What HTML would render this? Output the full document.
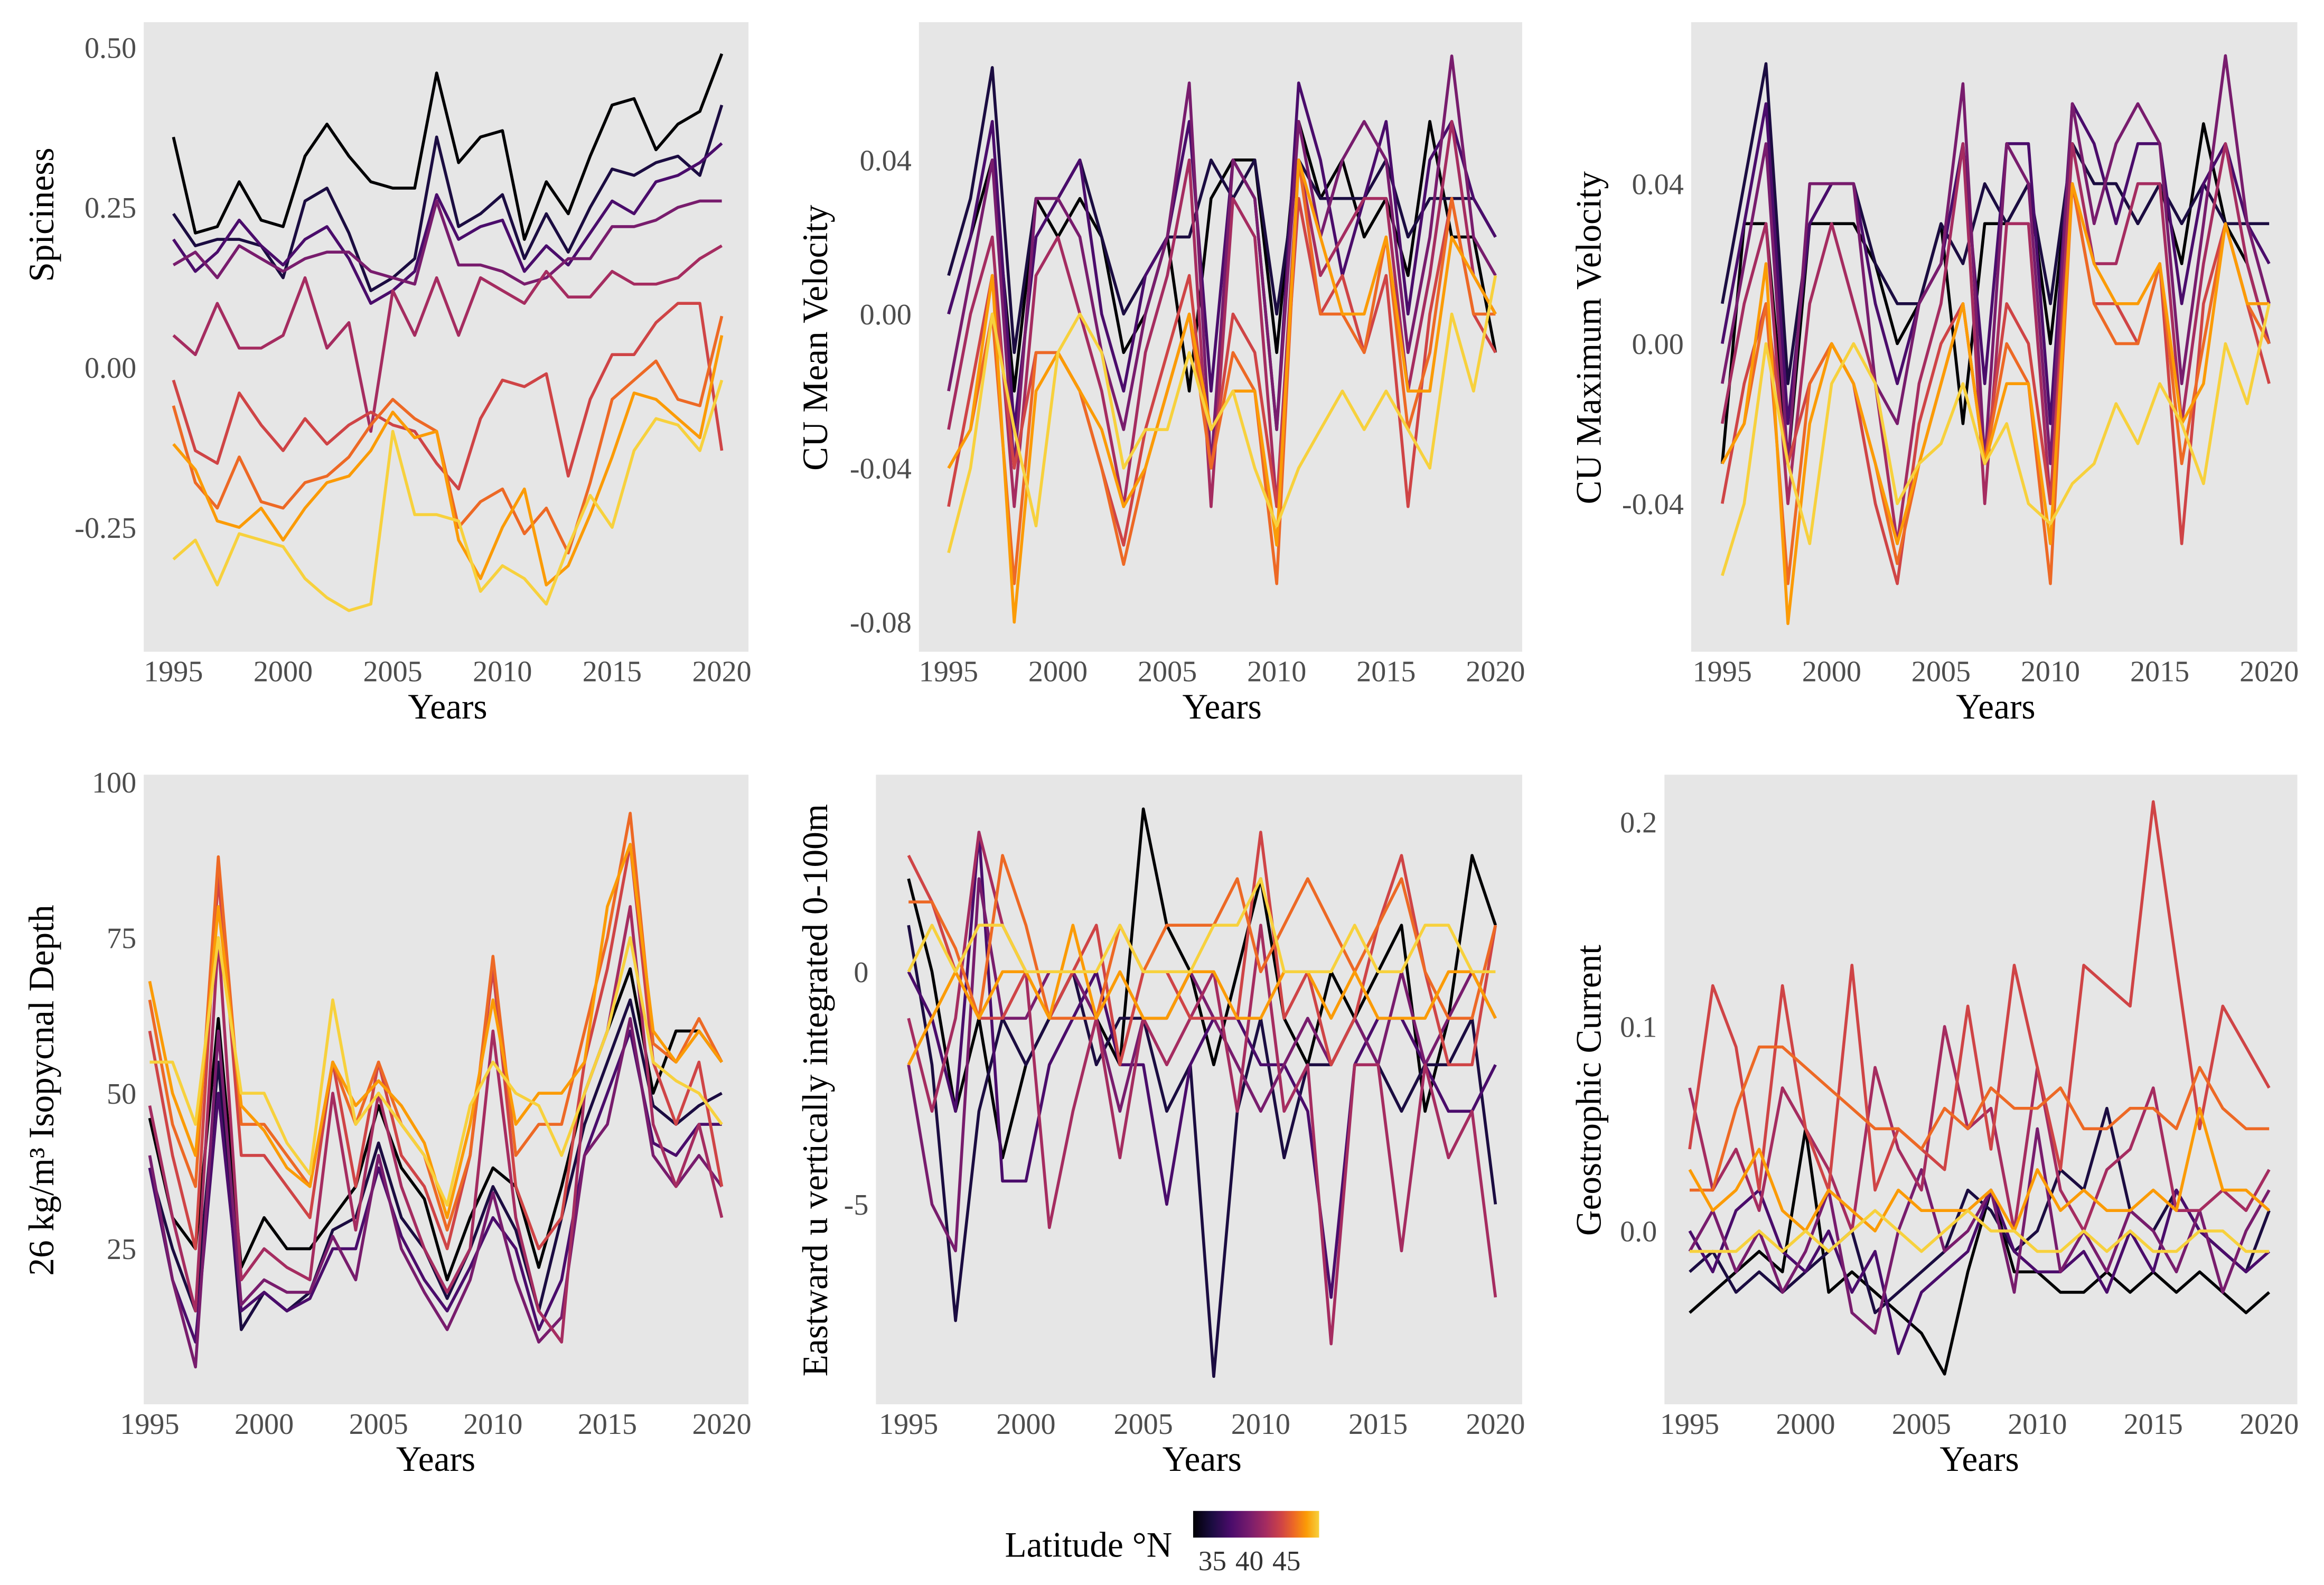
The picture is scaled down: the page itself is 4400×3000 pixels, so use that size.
<!DOCTYPE html>
<html><head><meta charset="utf-8"><style>
html,body{margin:0;padding:0;background:#fff;}
svg{display:block;}
text{font-family:"Liberation Serif",serif;}
</style></head><body>
<svg id="chart" width="4400" height="3000" viewBox="0 0 1568 1070" preserveAspectRatio="none" xmlns="http://www.w3.org/2000/svg">
<defs><linearGradient id="inferno" x1="0" x2="1" y1="0" y2="0">
<stop offset="0" stop-color="#000004"/><stop offset="0.15" stop-color="#1b0c41"/><stop offset="0.3" stop-color="#4a0c6b"/><stop offset="0.45" stop-color="#781c6d"/><stop offset="0.58" stop-color="#a52c60"/><stop offset="0.7" stop-color="#cf4446"/><stop offset="0.8" stop-color="#ed6925"/><stop offset="0.9" stop-color="#fb9b06"/><stop offset="1" stop-color="#f7d13d"/></linearGradient></defs>
<g>
<text x="678" y="1051" font-size="24">Latitude °N</text>
<rect x="805" y="1020" width="85" height="18" fill="url(#inferno)"/>
<text x="818" y="1060" font-size="19" text-anchor="middle" fill="#333">35</text>
<text x="843" y="1060" font-size="19" text-anchor="middle" fill="#333">40</text>
<text x="868" y="1060" font-size="19" text-anchor="middle" fill="#333">45</text>
</g>
</svg>
<script>
const years = [1995,1996,1997,1998,1999,2000,2001,2002,2003,2004,2005,2006,2007,2008,2009,2010,2011,2012,2013,2014,2015,2016,2017,2018,2019,2020];
const seriesColors = ["#000004","#1b0c41","#4a0c6b","#781c6d","#a52c60","#cf4446","#ed6925","#fb9b06","#f7d13d"];
const xTicks = [1995,2000,2005,2010,2015,2020];

const spice0=[0.36,0.21,0.22,0.29,0.23,0.22,0.33,0.38,0.33,0.29,0.28,0.28,0.46,0.32,0.36,0.37,0.20,0.29,0.24,0.33,0.41,0.42,0.34,0.38,0.40,0.49];
const spice1=[0.24,0.19,0.20,0.20,0.19,0.14,0.26,0.28,0.21,0.12,0.14,0.17,0.36,0.22,0.24,0.27,0.17,0.24,0.18,0.25,0.31,0.30,0.32,0.33,0.30,0.41];
const spice2=[0.20,0.15,0.18,0.23,0.19,0.16,0.20,0.22,0.17,0.10,0.12,0.15,0.27,0.20,0.22,0.23,0.15,0.19,0.16,0.21,0.26,0.24,0.29,0.30,0.32,0.35];
const spice3=[0.16,0.18,0.14,0.19,0.17,0.15,0.17,0.18,0.18,0.15,0.14,0.13,0.26,0.16,0.16,0.15,0.13,0.14,0.17,0.17,0.22,0.22,0.23,0.25,0.26,0.26];
const spice4=[0.05,0.02,0.10,0.03,0.03,0.05,0.14,0.03,0.07,-0.10,0.12,0.05,0.14,0.05,0.14,0.12,0.10,0.15,0.11,0.11,0.15,0.13,0.13,0.14,0.17,0.19];
const spice5=[-0.02,-0.13,-0.15,-0.04,-0.09,-0.13,-0.08,-0.12,-0.09,-0.07,-0.09,-0.10,-0.15,-0.19,-0.08,-0.02,-0.03,-0.01,-0.17,-0.05,0.02,0.02,0.07,0.10,0.10,-0.13];
const spice6=[-0.06,-0.18,-0.22,-0.14,-0.21,-0.22,-0.18,-0.17,-0.14,-0.09,-0.05,-0.08,-0.10,-0.25,-0.21,-0.19,-0.26,-0.22,-0.29,-0.18,-0.05,-0.02,0.01,-0.05,-0.06,0.08];
const spice7=[-0.12,-0.16,-0.24,-0.25,-0.22,-0.27,-0.22,-0.18,-0.17,-0.13,-0.07,-0.11,-0.10,-0.27,-0.33,-0.25,-0.19,-0.34,-0.31,-0.23,-0.14,-0.04,-0.05,-0.08,-0.11,0.05];
const spice8=[-0.30,-0.27,-0.34,-0.26,-0.27,-0.28,-0.33,-0.36,-0.38,-0.37,-0.10,-0.23,-0.23,-0.24,-0.35,-0.31,-0.33,-0.37,-0.28,-0.20,-0.25,-0.13,-0.08,-0.09,-0.13,-0.02];

const mean0=[0.00,0.02,0.04,-0.02,0.03,0.02,0.03,0.02,-0.01,0.00,0.02,-0.02,0.03,0.04,0.04,-0.01,0.05,0.03,0.04,0.02,0.03,0.01,0.05,0.02,0.02,-0.01];
const mean1=[0.01,0.03,0.064,-0.01,0.03,0.03,0.04,0.02,0.00,0.01,0.02,0.02,0.04,0.03,0.04,0.00,0.04,0.03,0.03,0.03,0.04,0.02,0.03,0.03,0.03,0.02];
const mean2=[0.00,0.02,0.05,-0.03,0.02,0.03,0.04,0.00,-0.02,0.01,0.02,0.05,-0.02,0.04,0.03,-0.03,0.06,0.04,0.01,0.03,0.05,0.00,0.04,0.05,0.03,0.02];
const mean3=[-0.02,0.01,0.04,-0.04,0.03,0.03,0.02,-0.01,-0.03,0.00,0.02,0.06,-0.04,0.04,0.03,-0.03,0.05,0.02,0.04,0.05,0.04,-0.01,0.02,0.067,0.02,0.01];
const mean4=[-0.03,0.00,0.02,-0.05,0.01,0.02,0.00,-0.02,-0.05,-0.01,0.01,0.04,-0.05,0.03,0.02,-0.05,0.04,0.01,0.02,0.03,0.03,-0.02,0.01,0.05,0.01,0.00];
const mean5=[-0.05,-0.02,0.01,-0.04,-0.01,-0.01,-0.02,-0.04,-0.06,-0.03,-0.01,0.01,-0.04,0.00,-0.01,-0.05,0.03,0.00,0.01,-0.01,0.01,-0.05,0.00,0.03,0.00,-0.01];
const mean6=[-0.04,-0.03,0.00,-0.07,-0.01,-0.01,-0.02,-0.04,-0.065,-0.04,-0.02,0.00,-0.04,-0.01,-0.02,-0.07,0.04,0.00,0.00,-0.01,0.02,-0.03,-0.01,0.03,0.00,0.00];
const mean7=[-0.04,-0.03,0.01,-0.08,-0.02,-0.01,-0.02,-0.03,-0.05,-0.04,-0.02,0.00,-0.03,-0.02,-0.02,-0.06,0.04,0.02,0.00,0.00,0.02,-0.02,-0.02,0.02,0.01,0.00];
const mean8=[-0.062,-0.04,0.00,-0.03,-0.055,-0.01,0.00,-0.01,-0.04,-0.03,-0.03,-0.01,-0.03,-0.02,-0.04,-0.055,-0.04,-0.03,-0.02,-0.03,-0.02,-0.03,-0.04,0.00,-0.02,0.01];

const max0=[-0.03,0.03,0.03,-0.03,0.03,0.03,0.03,0.02,0.00,0.01,0.03,-0.02,0.03,0.03,0.04,0.00,0.05,0.04,0.04,0.03,0.04,0.02,0.055,0.03,0.02,0.00];
const max1=[0.01,0.04,0.07,-0.01,0.03,0.04,0.04,0.02,0.01,0.01,0.03,0.02,0.04,0.03,0.04,0.01,0.05,0.04,0.04,0.03,0.04,0.03,0.04,0.03,0.03,0.03];
const max2=[0.00,0.03,0.06,-0.02,0.03,0.04,0.04,0.01,-0.01,0.01,0.02,0.05,-0.01,0.05,0.05,-0.02,0.06,0.05,0.03,0.05,0.05,0.01,0.04,0.05,0.03,0.02];
const max3=[-0.01,0.02,0.05,-0.03,0.04,0.04,0.04,-0.01,-0.02,0.01,0.02,0.065,-0.03,0.05,0.04,-0.03,0.06,0.03,0.05,0.06,0.05,-0.01,0.03,0.072,0.03,0.01];
const max4=[-0.02,0.01,0.03,-0.04,0.01,0.03,0.01,-0.01,-0.05,-0.01,0.01,0.05,-0.04,0.03,0.03,-0.04,0.05,0.02,0.02,0.04,0.04,-0.02,0.02,0.05,0.02,0.00];
const max5=[-0.04,-0.01,0.01,-0.03,-0.01,0.00,-0.01,-0.04,-0.06,-0.02,0.00,0.01,-0.03,0.01,0.00,-0.04,0.04,0.01,0.01,0.00,0.02,-0.05,0.01,0.03,0.01,-0.01];
const max6=[-0.03,-0.02,0.01,-0.06,-0.01,0.00,-0.01,-0.03,-0.055,-0.03,-0.01,0.01,-0.03,0.00,-0.01,-0.06,0.04,0.01,0.00,0.00,0.02,-0.03,0.00,0.03,0.01,0.00];
const max7=[-0.03,-0.02,0.02,-0.07,-0.02,0.00,-0.01,-0.03,-0.05,-0.03,-0.01,0.01,-0.03,-0.01,-0.01,-0.05,0.04,0.02,0.01,0.01,0.02,-0.02,-0.01,0.03,0.01,0.01];
const max8=[-0.058,-0.04,0.00,-0.03,-0.05,-0.01,0.00,-0.01,-0.04,-0.03,-0.025,-0.01,-0.03,-0.02,-0.04,-0.045,-0.035,-0.03,-0.015,-0.025,-0.01,-0.02,-0.035,0.00,-0.015,0.01];

const iso0=[46,30,25,62,22,30,25,25,30,35,48,38,33,20,30,38,35,22,35,50,60,70,50,60,60,55];
const iso1=[38,25,15,55,12,18,15,18,28,30,42,30,25,17,25,35,28,15,30,45,55,65,48,45,48,50];
const iso2=[38,20,10,50,15,18,15,17,25,25,38,27,20,15,22,30,25,12,20,40,50,60,42,40,45,45];
const iso3=[40,20,6,60,16,20,18,18,27,20,40,25,18,12,20,34,20,10,14,40,45,62,40,35,40,35];
const iso4=[48,30,15,75,20,25,22,20,50,28,50,35,25,18,25,60,30,15,10,50,60,80,45,35,45,30];
const iso5=[60,40,25,85,40,40,35,30,55,35,55,40,35,25,40,70,35,25,30,55,70,90,55,45,55,35];
const iso6=[65,45,35,88,45,45,40,35,55,45,55,45,40,28,40,72,40,45,45,60,75,95,58,55,62,55];
const iso7=[68,50,40,80,48,44,38,35,55,48,52,48,42,30,45,65,45,50,50,55,80,90,60,55,60,55];
const iso8=[55,55,45,75,50,50,42,37,65,45,50,45,40,32,48,55,50,48,40,50,60,75,55,52,50,45];

const east0=[2,0,-3,-1,-4,-2,-1,0,-1,-2,3.5,1,0,-2,0,2,-1,-2,0,-1,0,1,-3,-1,2.5,1];
const east1=[1,-2,-7.5,-3,-1,-2,-1,0,-2,-1,-1,-3,-2,-8.7,-3,-1,-4,-2,-2,-1,-2,-3,-2,-2,-1,-5];
const east2=[0,-1,-3,3,-4.5,-4.5,-2,-1,0,-2,-2,-5,-2,-1,-1,-2,-2,-3,-7,-2,-1,-1,-2,-3,-3,-2];
const east3=[-2,-5,-6,2,-1,-1,0,0,-1,-3,-1,-1,0,-1,-2,-3,-2,-1,-2,-1,-2,0,-2,-1,0,-1];
const east4=[-1,-3,-1,3,1,0,-5.5,-3,-1,-4,-1,-2,-1,0,-3,1,-3,-2,-8,-2,-2,-6,-2,-4,-3,-7];
const east5=[2.5,1.5,0,-1,-1,0,-1,0,1,-2,0,0,-1,-1,-1,3,-1,0,-2,-1,1,2.5,0,-2,-2,1];
const east6=[1.5,1.5,0.5,-1,2.5,1,-1,-1,-1,1,0,1,1,1,2,0,1,2,1,0,1,2,0,-1,-1,1];
const east7=[-2,-1,0,-1,0,0,-1,1,-1,0,-1,-1,0,0,-1,-1,0,0,-1,0,-1,-1,-1,0,0,-1];
const east8=[0,1,0,1,1,0,0,0,0,1,0,0,0,1,1,2,0,0,0,1,0,0,1,1,0,0];

const geo0=[-0.04,-0.03,-0.02,-0.01,-0.02,0.05,-0.03,-0.02,-0.03,-0.04,-0.05,-0.07,-0.02,0.02,-0.02,-0.02,-0.03,-0.03,-0.02,-0.03,-0.02,-0.03,-0.02,-0.03,-0.04,-0.03];
const geo1=[-0.02,-0.01,-0.03,-0.02,-0.03,-0.02,-0.01,0.00,-0.04,-0.03,-0.02,-0.01,0.02,0.01,-0.01,0.00,0.03,0.02,0.06,0.01,0.00,0.02,0.00,-0.01,-0.02,0.01];
const geo2=[0.00,-0.02,0.01,0.02,-0.01,-0.02,0.00,-0.03,-0.01,-0.06,-0.03,-0.02,-0.01,0.02,-0.01,-0.02,-0.02,-0.01,-0.03,0.00,-0.02,0.02,0.00,-0.01,-0.02,-0.01];
const geo3=[-0.01,0.01,-0.02,0.00,-0.03,-0.01,0.02,-0.04,-0.05,0.00,0.03,-0.01,0.00,0.02,-0.03,0.05,-0.02,0.00,-0.02,0.01,0.00,-0.02,0.01,-0.03,0.00,0.02];
const geo4=[0.07,0.02,0.04,0.01,0.07,0.05,0.03,0.00,0.08,0.04,0.02,0.10,0.05,0.06,0.00,0.08,0.02,0.00,0.03,0.04,0.07,0.01,0.01,0.02,0.01,0.03];
const geo5=[0.04,0.12,0.09,0.02,0.12,0.05,0.02,0.13,0.02,0.05,0.04,0.03,0.11,0.04,0.13,0.08,0.03,0.13,0.12,0.11,0.21,0.13,0.05,0.11,0.09,0.07];
const geo6=[0.02,0.02,0.06,0.09,0.09,0.08,0.07,0.06,0.05,0.05,0.04,0.06,0.05,0.07,0.06,0.06,0.07,0.05,0.05,0.06,0.06,0.05,0.08,0.06,0.05,0.05];
const geo7=[0.03,0.01,0.02,0.04,0.01,0.00,0.02,0.01,0.00,0.02,0.01,0.01,0.01,0.02,0.00,0.03,0.01,0.02,0.01,0.01,0.02,0.01,0.06,0.02,0.02,0.01];
const geo8=[-0.01,-0.01,-0.01,0.00,-0.01,0.00,-0.01,0.00,0.01,0.00,-0.01,0.00,0.01,0.00,0.00,-0.01,-0.01,0.00,-0.01,0.00,-0.01,-0.01,0.00,0.00,-0.01,-0.01];

const spiceTicks=[-0.25,0,0.25,0.5], spiceTickLabels=["-0.25","0.00","0.25","0.50"];
const meanTicks=[-0.08,-0.04,0,0.04], meanTickLabels=["-0.08","-0.04","0.00","0.04"];
const maxTicks=[-0.04,0,0.04], maxTickLabels=["-0.04","0.00","0.04"];
const isoTicks=[25,50,75,100], isoTickLabels=["25","50","75","100"];
const eastTicks=[-5,0], eastTickLabels=["-5","0"];
const geoTicks=[0,0.1,0.2], geoTickLabels=["0.0","0.1","0.2"];

const NS="http://www.w3.org/2000/svg";
const svg=document.getElementById('chart');
function mk(tag,attrs,parent){const e=document.createElementNS(NS,tag);for(const k in attrs)e.setAttribute(k,attrs[k]);parent.appendChild(e);return e;}

const panels=[
 {name:"spiciness",bx:[97,505],by:[15,440],x0:117,x1:487,v0:0,p0:248,v1:0.25,p1:140,ticks:spiceTicks,labels:spiceTickLabels,title:"Spiciness",series:[spice0,spice1,spice2,spice3,spice4,spice5,spice6,spice7,spice8],ty:145,tx:36},
 {name:"cu-mean-velocity",bx:[620,1027],by:[15,440],x0:640,x1:1009,v0:0,p0:212,v1:0.04,p1:108,ticks:meanTicks,labels:meanTickLabels,title:"CU Mean Velocity",series:[mean0,mean1,mean2,mean3,mean4,mean5,mean6,mean7,mean8],ty:228,tx:558},
 {name:"cu-maximum-velocity",bx:[1141,1550],by:[15,440],x0:1162,x1:1531,v0:0,p0:232,v1:0.04,p1:124,ticks:maxTicks,labels:maxTickLabels,title:"CU Maximum Velocity",series:[max0,max1,max2,max3,max4,max5,max6,max7,max8],ty:228,tx:1080},
 {name:"isopycnal-depth",bx:[97,505],by:[523,948],x0:101,x1:487,v0:50,p0:738,v1:75,p1:633,ticks:isoTicks,labels:isoTickLabels,title:"26 kg/m³ Isopycnal Depth",series:[iso0,iso1,iso2,iso3,iso4,iso5,iso6,iso7,iso8],ty:736,tx:36},
 {name:"eastward-u",bx:[591,1027],by:[523,948],x0:613,x1:1009,v0:0,p0:656,v1:-5,p1:813,ticks:eastTicks,labels:eastTickLabels,title:"Eastward u vertically integrated 0-100m",series:[east0,east1,east2,east3,east4,east5,east6,east7,east8],ty:736,tx:558},
 {name:"geostrophic-current",bx:[1123,1550],by:[523,948],x0:1140,x1:1531,v0:0,p0:831,v1:0.1,p1:693,ticks:geoTicks,labels:geoTickLabels,title:"Geostrophic Current",series:[geo0,geo1,geo2,geo3,geo4,geo5,geo6,geo7,geo8],ty:736,tx:1080}
];

panels.forEach(p=>{
 const g=mk('g',{},svg);
 
 
 const xs=y=>p.x0+(y-1995)*(p.x1-p.x0)/25;
 const ys=v=>p.p0+(v-p.v0)*(p.p1-p.p0)/(p.v1-p.v0);
 const bg=mk('rect',{x:p.bx[0],y:p.by[0],width:p.bx[1]-p.bx[0],height:p.by[1]-p.by[0],fill:"#e6e6e6"},g);
 
 
 p.series.forEach((s,i)=>{
  const d=s.map((v,j)=>(j?'L':'M')+xs(years[j]).toFixed(1)+' '+ys(v).toFixed(1)).join(' ');
  const path=mk('path',{d:d,fill:"none",stroke:seriesColors[i],"stroke-width":2,"stroke-linejoin":"round"},g);
  
  
 });
 xTicks.forEach(t=>{
  const tl=mk('text',{x:xs(t),y:p.by[1]+20,"font-size":20,"text-anchor":"middle",fill:"#4d4d4d"},g);
  tl.textContent=t;
  
  
 });
 p.ticks.forEach((t,i)=>{
  const tl=mk('text',{x:p.bx[0]-5,y:ys(t)+7,"font-size":20,"text-anchor":"end",fill:"#4d4d4d"},g);
  tl.textContent=p.labels[i];
  
  
 });
 const xt=mk('text',{x:(p.x0+p.x1)/2,y:p.by[1]+45,"font-size":24,"text-anchor":"middle",fill:"#000"},g);
 xt.textContent="Years";
 
 
 const yt=mk('text',{x:0,y:0,"font-size":24,"text-anchor":"middle",fill:"#000",transform:`translate(${p.tx},${p.ty}) rotate(-90)`},g);
 yt.textContent=p.title;
 
 
});
</script>
</body></html>
